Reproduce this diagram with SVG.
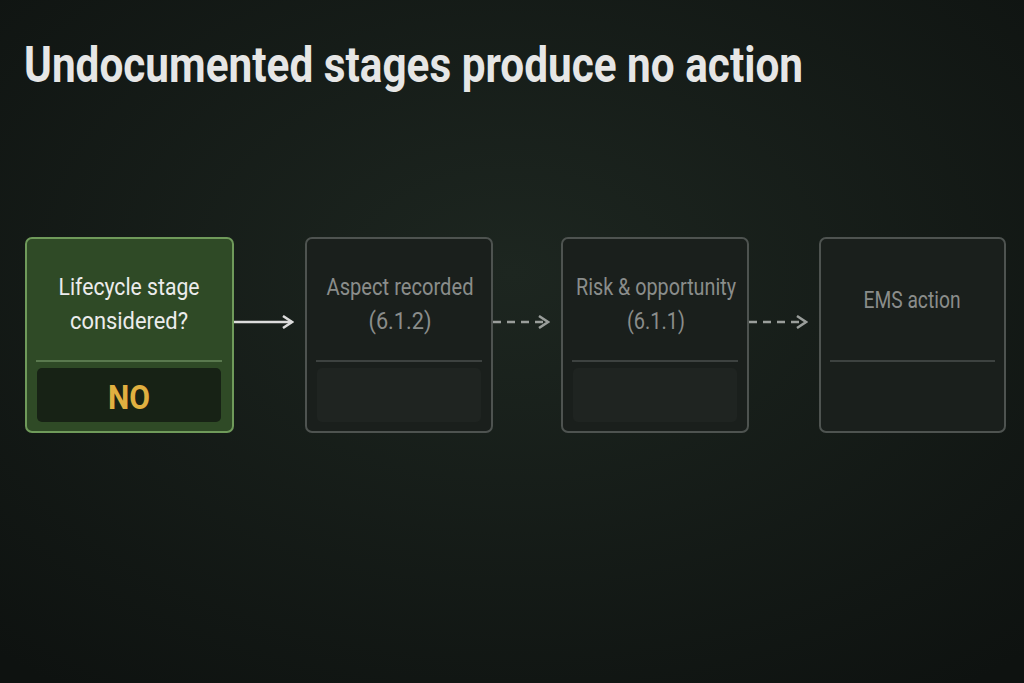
<svg xmlns="http://www.w3.org/2000/svg" width="1024" height="683" viewBox="0 0 1024 683">
<defs>
<radialGradient id="bg" cx="50%" cy="40%" r="75%"><stop offset="0" stop-color="#1d2620"/><stop offset="1" stop-color="#0e1210"/></radialGradient>
<marker id="ah" markerWidth="12" markerHeight="14" refX="10" refY="7" orient="auto" markerUnits="userSpaceOnUse"><path d="M1,1 L10,7 L1,13" fill="none" stroke="#9a9e9b" stroke-width="2.5"/></marker>
<marker id="ahw" markerWidth="12" markerHeight="14" refX="10" refY="7" orient="auto" markerUnits="userSpaceOnUse"><path d="M1,1 L10,7 L1,13" fill="none" stroke="#dcdcdc" stroke-width="2.5"/></marker>
</defs>
<style>
text{font-family:"Roboto","DejaVu Sans Condensed",sans-serif;text-anchor:middle}
.dim{fill:#1a1f1c;stroke:#4e5350;stroke-width:2}
.dimt{fill:#8a8d8b;font-size:23px}
.div{stroke:#4a4f4c;stroke-width:1.5}
</style>
<rect width="1024" height="683" fill="url(#bg)"/>
<text x="24" y="82" textLength="779" lengthAdjust="spacingAndGlyphs" style="text-anchor:start;font-size:50px;font-weight:bold;fill:#e6e6e6">Undocumented stages produce no action</text>
<g id="connectors">
<line x1="234" y1="322" x2="292" y2="322" stroke="#dcdcdc" stroke-width="2.5" marker-end="url(#ahw)"/>
<line x1="493" y1="322" x2="548" y2="322" stroke="#9a9e9b" stroke-width="2.5" stroke-dasharray="8,6" marker-end="url(#ah)"/>
<line x1="749" y1="322" x2="806" y2="322" stroke="#9a9e9b" stroke-width="2.5" stroke-dasharray="8,6" marker-end="url(#ah)"/>
</g>
<g id="n1">
<rect x="26" y="238" width="207" height="194" rx="6" fill="#2f4a26" stroke="#6f9a5a" stroke-width="2"/>
<text x="129" y="295" textLength="141" lengthAdjust="spacingAndGlyphs" style="fill:#ececec;font-size:23px">Lifecycle stage</text>
<text x="129" y="329" textLength="118" lengthAdjust="spacingAndGlyphs" style="fill:#ececec;font-size:23px">considered?</text>
<line x1="36" y1="361" x2="222" y2="361" stroke="#6a8a5c" stroke-width="1.5"/>
<rect x="37" y="368" width="184" height="54" rx="5" fill="#172215"/>
<text x="129" y="409" textLength="42" lengthAdjust="spacingAndGlyphs" style="fill:#e0b040;font-size:33px;font-weight:bold">NO</text>
</g>
<g id="n2">
<rect class="dim" x="306" y="238" width="186" height="194" rx="6"/>
<text class="dimt" x="400" y="295" textLength="147" lengthAdjust="spacingAndGlyphs">Aspect recorded</text>
<text class="dimt" x="400" y="329" textLength="63" lengthAdjust="spacingAndGlyphs">(6.1.2)</text>
<line class="div" x1="316" y1="361" x2="482" y2="361"/>
<rect x="317" y="368" width="164" height="54" rx="5" fill="#1f2421"/>
</g>
<g id="n3">
<rect class="dim" x="562" y="238" width="186" height="194" rx="6"/>
<text class="dimt" x="656" y="295" textLength="160" lengthAdjust="spacingAndGlyphs">Risk &amp; opportunity</text>
<text class="dimt" x="656" y="329" textLength="58" lengthAdjust="spacingAndGlyphs">(6.1.1)</text>
<line class="div" x1="572" y1="361" x2="738" y2="361"/>
<rect x="573" y="368" width="164" height="54" rx="5" fill="#1f2421"/>
</g>
<g id="n4">
<rect class="dim" x="820" y="238" width="185" height="194" rx="6"/>
<text class="dimt" x="912" y="308" textLength="97" lengthAdjust="spacingAndGlyphs">EMS action</text>
<line class="div" x1="830" y1="361" x2="995" y2="361"/>
</g>
</svg>
